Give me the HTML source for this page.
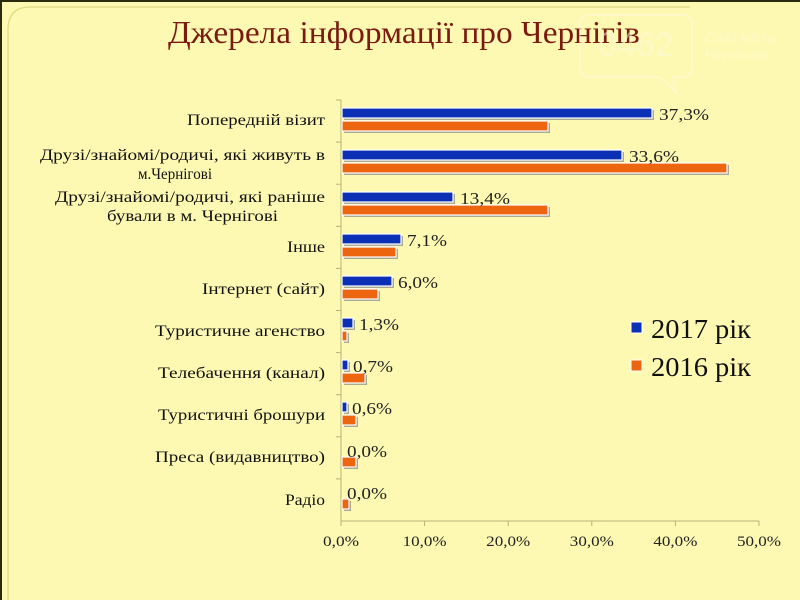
<!DOCTYPE html>
<html><head><meta charset="utf-8"><style>
body{margin:0;background:#fdf9b2;}
svg{display:block;font-family:"Liberation Serif",serif;}
</style></head><body>
<svg width="800" height="600" viewBox="0 0 800 600">
<rect width="800" height="600" fill="#fdf9b2"/>
<rect x="0" y="0" width="800" height="2" fill="#2a2a10"/>
<rect x="0" y="0" width="2" height="600" fill="#2a2a10"/>
<path d="M8 600 V30 Q8 7 30 7 H690" fill="none" stroke="#e6dc8a" stroke-width="1.5"/>
<text x="404" y="43" text-anchor="middle" font-size="32" fill="#7a1a10" textLength="472" lengthAdjust="spacingAndGlyphs">Джерела інформації про Чернігів</text>
<g opacity="0.45" fill="none" stroke="#fffbe0" stroke-width="2">
<path d="M590 15 H682 Q692 15 692 25 V67 Q692 77 682 77 H672 L676 92 L660 77 H590 Q580 77 580 67 V25 Q580 15 590 15 Z"/>
</g>
<text x="636" y="56" text-anchor="middle" font-family="Liberation Sans,sans-serif" font-size="34" fill="#fffbe0" opacity="0.45">0462</text>
<text x="705" y="42" font-family="Liberation Sans,sans-serif" font-size="14" fill="#fffbe0" opacity="0.45">Сайт міста</text>
<text x="705" y="59" font-family="Liberation Sans,sans-serif" font-size="14" fill="#fffbe0" opacity="0.45">Чернігова</text>
<g stroke="#b8b27a" stroke-width="1">
<line x1="341" y1="100" x2="341" y2="521"/>
<line x1="341" y1="521" x2="759" y2="521"/>
<line x1="341" y1="521" x2="341" y2="526"/><line x1="424.6" y1="521" x2="424.6" y2="526"/><line x1="508.2" y1="521" x2="508.2" y2="526"/><line x1="591.8" y1="521" x2="591.8" y2="526"/><line x1="675.4" y1="521" x2="675.4" y2="526"/><line x1="759" y1="521" x2="759" y2="526"/>
<line x1="336" y1="100" x2="341" y2="100"/><line x1="336" y1="142.1" x2="341" y2="142.1"/><line x1="336" y1="184.2" x2="341" y2="184.2"/><line x1="336" y1="226.3" x2="341" y2="226.3"/><line x1="336" y1="268.4" x2="341" y2="268.4"/><line x1="336" y1="310.5" x2="341" y2="310.5"/><line x1="336" y1="352.6" x2="341" y2="352.6"/><line x1="336" y1="394.7" x2="341" y2="394.7"/><line x1="336" y1="436.8" x2="341" y2="436.8"/><line x1="336" y1="478.9" x2="341" y2="478.9"/>
</g>
<g font-size="15" fill="#222" text-anchor="middle">
<text x="341" y="546" textLength="36" lengthAdjust="spacingAndGlyphs">0,0%</text><text x="424.6" y="546" textLength="44" lengthAdjust="spacingAndGlyphs">10,0%</text><text x="508.2" y="546" textLength="44" lengthAdjust="spacingAndGlyphs">20,0%</text><text x="591.8" y="546" textLength="44" lengthAdjust="spacingAndGlyphs">30,0%</text><text x="675.4" y="546" textLength="44" lengthAdjust="spacingAndGlyphs">40,0%</text><text x="759" y="546" textLength="44" lengthAdjust="spacingAndGlyphs">50,0%</text>
</g>
<g font-size="16" fill="#111">
<text x="187" y="125" textLength="138" lengthAdjust="spacingAndGlyphs">Попередній візит</text>
<text x="40" y="160" textLength="285" lengthAdjust="spacingAndGlyphs">Друзі/знайомі/родичі, які живуть в</text>
<text x="138" y="179" textLength="74" lengthAdjust="spacingAndGlyphs">м.Чернігові</text>
<text x="55" y="202" textLength="270" lengthAdjust="spacingAndGlyphs">Друзі/знайомі/родичі, які раніше</text>
<text x="107" y="221" textLength="171" lengthAdjust="spacingAndGlyphs">бували в м. Чернігові</text>
<text x="287" y="252" textLength="38" lengthAdjust="spacingAndGlyphs">Інше</text>
<text x="202" y="294" textLength="123" lengthAdjust="spacingAndGlyphs">Інтернет (сайт)</text>
<text x="155" y="336" textLength="170" lengthAdjust="spacingAndGlyphs">Туристичне агенство</text>
<text x="158" y="378" textLength="167" lengthAdjust="spacingAndGlyphs">Телебачення (канал)</text>
<text x="158" y="420" textLength="167" lengthAdjust="spacingAndGlyphs">Туристичні брошури</text>
<text x="155" y="462" textLength="170" lengthAdjust="spacingAndGlyphs">Преса (видавництво)</text>
<text x="285" y="505" textLength="40" lengthAdjust="spacingAndGlyphs">Радіо</text>
</g>
<g fill="#888" opacity="0.7">
<rect x="344" y="110" width="310" height="10"/><rect x="344" y="123" width="206" height="10"/>
<rect x="344" y="152" width="280" height="10"/><rect x="344" y="165" width="385" height="10"/>
<rect x="344" y="194" width="111" height="10"/><rect x="344" y="207" width="206" height="10"/>
<rect x="344" y="236" width="59" height="10"/><rect x="344" y="249" width="54" height="10"/>
<rect x="344" y="278" width="50" height="10"/><rect x="344" y="291" width="36" height="10"/>
<rect x="344" y="320" width="11" height="10"/><rect x="344" y="333" width="5" height="10"/>
<rect x="344" y="362" width="6" height="10"/><rect x="344" y="375" width="23" height="10"/>
<rect x="344" y="404" width="5" height="10"/><rect x="344" y="417" width="14" height="10"/>
<rect x="344" y="459" width="14" height="10"/>
<rect x="344" y="501" width="7" height="10"/>
</g>
<g stroke="#fff" stroke-width="1.2">
<g fill="#0b2fb5">
<rect x="342" y="108" width="310" height="10"/>
<rect x="342" y="150" width="280" height="10"/>
<rect x="342" y="192" width="111" height="10"/>
<rect x="342" y="234" width="59" height="10"/>
<rect x="342" y="276" width="50" height="10"/>
<rect x="342" y="318" width="11" height="10"/>
<rect x="342" y="360" width="6" height="10"/>
<rect x="342" y="402" width="5" height="10"/>
</g>
<g fill="#ee6510">
<rect x="342" y="121" width="206" height="10"/>
<rect x="342" y="163" width="385" height="10"/>
<rect x="342" y="205" width="206" height="10"/>
<rect x="342" y="247" width="54" height="10"/>
<rect x="342" y="289" width="36" height="10"/>
<rect x="342" y="331" width="5" height="10"/>
<rect x="342" y="373" width="23" height="10"/>
<rect x="342" y="415" width="14" height="10"/>
<rect x="342" y="457" width="14" height="10"/>
<rect x="342" y="499" width="7" height="10"/>
</g>
</g>
<g font-size="16.5" fill="#222">
<text x="659" y="120" textLength="50" lengthAdjust="spacingAndGlyphs">37,3%</text>
<text x="629" y="162" textLength="50" lengthAdjust="spacingAndGlyphs">33,6%</text>
<text x="460" y="204" textLength="50" lengthAdjust="spacingAndGlyphs">13,4%</text>
<text x="407" y="246" textLength="40" lengthAdjust="spacingAndGlyphs">7,1%</text>
<text x="398" y="288" textLength="40" lengthAdjust="spacingAndGlyphs">6,0%</text>
<text x="359" y="330" textLength="40" lengthAdjust="spacingAndGlyphs">1,3%</text>
<text x="353" y="372" textLength="40" lengthAdjust="spacingAndGlyphs">0,7%</text>
<text x="352" y="414" textLength="40" lengthAdjust="spacingAndGlyphs">0,6%</text>
<text x="347" y="457" textLength="40" lengthAdjust="spacingAndGlyphs">0,0%</text>
<text x="347" y="499" textLength="40" lengthAdjust="spacingAndGlyphs">0,0%</text>
</g>
<rect x="631" y="322" width="11" height="11" fill="#0b2fb5" stroke="#fff" stroke-width="1"/>
<rect x="631" y="360" width="11" height="11" fill="#ee6510" stroke="#fff" stroke-width="1"/>
<text x="651" y="338" font-size="27" fill="#111" textLength="100" lengthAdjust="spacingAndGlyphs">2017 рік</text>
<text x="651" y="376" font-size="27" fill="#111" textLength="100" lengthAdjust="spacingAndGlyphs">2016 рік</text>
</svg>
</body></html>
